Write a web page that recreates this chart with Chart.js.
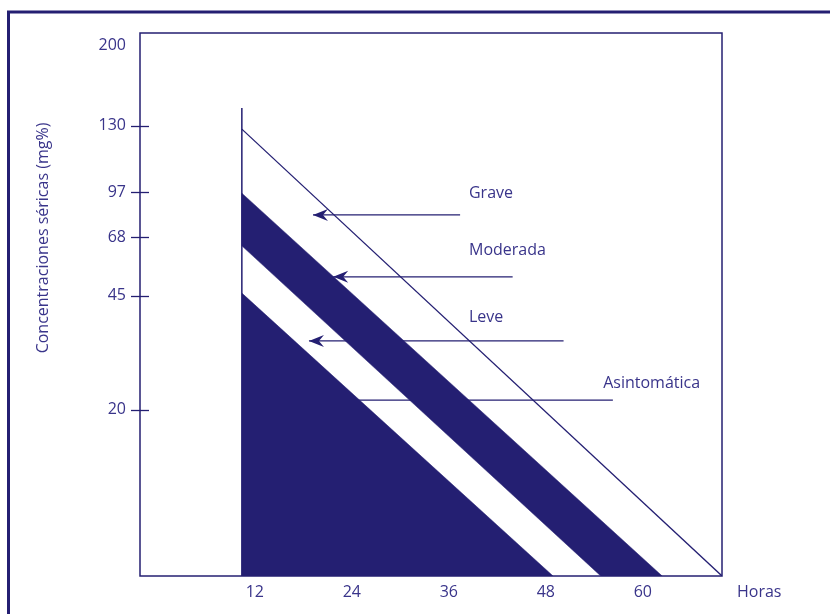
<!DOCTYPE html>
<html>
<head>
<meta charset="utf-8">
<script src="https://cdn.jsdelivr.net/npm/chart.js"></script>
<style>
  html, body { margin: 0; padding: 0; background: #fff; }
  #wrap { width: 830px; height: 614px; position: relative; }
</style>
</head>
<body>
<div id="wrap"><canvas id="nomograma"></canvas></div>
<script>
// y axis is drawn in "nomogram height" units (0 = bottom, 100 = top of the box),
// the concentration labels sit at the levels
const concLabels = [200, 130, 97, 68, 45, 20];
const concLevels = [97.8, 82.9, 70.7, 62.4, 51.6, 30.6];

const hourTicks = [12, 24, 36, 48, 60];
const xMin = -2.2, xMax = 69.8;

// start of the zones (vertical line at ~10.4 h)
const startHour = 10.4;
const verticalTop = 86.2;

const graveLine = [{x: startHour, y: 82.3}, {x: 69.8, y: 0}];
const bandTop = [{x: startHour, y: 70.5}, {x: 62.4, y: 0}];
const bandBottom = [{x: startHour, y: 60.8}, {x: 54.8, y: 0}];
const leveTriangle = [{x: startHour, y: 52.1}, {x: 48.9, y: 0}];

// arrows: label, level, line start (right), line end (tip), arrowhead?
const arrowNames = ['Grave', 'Moderada', 'Leve', 'Asintomática'];
const arrowLevels = [66.5, 55.1, 43.3, 32.4];
const arrowFrom = [37.4, 43.9, 50.2, 56.3];
const arrowTo = [19.2, 21.7, 18.7, 24.8];
const arrowHead = [true, true, true, false];
const labelX = [38.5, 38.5, 38.5, 55.1];
const labelY = [70.5, 60.0, 47.7, 35.5];

const NAVY = '#241f72';
const TEXT = '#39348a';
const FONT = '"Open Sans", "Noto Sans", sans-serif';

const band = bandTop.concat(bandBottom.slice().reverse());
band.push(bandTop[0]);

const datasets = [
  {data: [{x: startHour, y: verticalTop}, {x: startHour, y: 0}], borderColor: NAVY, borderWidth: 1.5},
  {data: graveLine, borderColor: NAVY, borderWidth: 1.3},
  {data: band, borderColor: NAVY, borderWidth: 0.5, backgroundColor: NAVY, fill: 'shape'},
  {data: leveTriangle, borderColor: NAVY, borderWidth: 0.5, backgroundColor: NAVY, fill: 'origin'},
];
for (let i = 0; i < arrowNames.length; i++) {
  datasets.push({
    data: [{x: arrowFrom[i], y: arrowLevels[i]}, {x: arrowTo[i], y: arrowLevels[i]}],
    borderColor: NAVY,
    borderWidth: 1.3
  });
}

const extras = {
  id: 'extras',
  beforeDraw(chart) {
    const ctx = chart.ctx;
    ctx.save();
    ctx.fillStyle = '#fff';
    ctx.fillRect(0, 0, chart.width, chart.height);
    // outer frame
    ctx.strokeStyle = NAVY;
    ctx.lineWidth = 3;
    ctx.beginPath();
    ctx.moveTo(8.5, chart.height + 5);
    ctx.lineTo(8.5, 12);
    ctx.lineTo(chart.width + 5, 12);
    ctx.stroke();
    ctx.restore();
  },
  afterDraw(chart) {
    const ctx = chart.ctx;
    const xs = chart.scales.x, ys = chart.scales.y;
    const a = chart.chartArea;
    ctx.save();
    // box
    ctx.strokeStyle = NAVY;
    ctx.lineWidth = 1.5;
    ctx.strokeRect(a.left, a.top, a.right - a.left, a.bottom - a.top);
    // crossing tick marks (none at 200)
    ctx.lineWidth = 1.3;
    concLevels.forEach((v, i) => {
      if (i === 0) return;
      const py = Math.round(ys.getPixelForValue(v)) + 0.5;
      ctx.beginPath();
      ctx.moveTo(a.left - 9, py);
      ctx.lineTo(a.left + 9, py);
      ctx.stroke();
    });
    // arrowheads
    ctx.fillStyle = NAVY;
    arrowNames.forEach((n, i) => {
      if (!arrowHead[i]) return;
      const tx = xs.getPixelForValue(arrowTo[i]);
      const ty = ys.getPixelForValue(arrowLevels[i]);
      ctx.beginPath();
      ctx.moveTo(tx, ty);
      ctx.lineTo(tx + 15, ty - 6);
      ctx.lineTo(tx + 10, ty);
      ctx.lineTo(tx + 15, ty + 6);
      ctx.closePath();
      ctx.fill();
    });
    // zone labels
    ctx.fillStyle = TEXT;
    ctx.font = '16px ' + FONT;
    ctx.textBaseline = 'middle';
    ctx.textAlign = 'left';
    arrowNames.forEach((n, i) => {
      ctx.fillText(n, xs.getPixelForValue(labelX[i]), ys.getPixelForValue(labelY[i]));
    });
    // axis titles
    ctx.fillText('Horas', 737, 592);
    ctx.translate(43, 238);
    ctx.rotate(-Math.PI / 2);
    ctx.textAlign = 'center';
    ctx.fillText('Concentraciones séricas (mg%)', 0, 0);
    ctx.restore();
  }
};

new Chart(document.getElementById('nomograma'), {
  type: 'scatter',
  data: {datasets: datasets},
  options: {
    responsive: true,
    maintainAspectRatio: false,
    animation: false,
    layout: {padding: {left: 0, top: 33, right: 108, bottom: 0}},
    elements: {point: {radius: 0, hoverRadius: 0}, line: {tension: 0}},
    datasets: {scatter: {showLine: true, fill: false}},
    plugins: {legend: {display: false}, tooltip: {enabled: false}},
    scales: {
      x: {
        type: 'linear',
        min: xMin,
        max: xMax,
        afterBuildTicks: s => { s.ticks = hourTicks.map(v => ({value: v})); },
        afterFit: s => { s.height = 38; },
        grid: {display: false, drawTicks: false},
        border: {display: false},
        ticks: {color: TEXT, font: {family: FONT, size: 16}, padding: 7, maxRotation: 0}
      },
      y: {
        type: 'linear',
        min: 0,
        max: 100,
        afterBuildTicks: s => { s.ticks = concLevels.map(v => ({value: v})); },
        afterFit: s => { s.width = 140; },
        grid: {display: false, drawTicks: false},
        border: {display: false},
        ticks: {
          color: TEXT,
          font: {family: FONT, size: 16},
          padding: 14,
          callback: v => {
            const i = concLevels.indexOf(v);
            return i >= 0 ? String(concLabels[i]) : '';
          }
        }
      }
    }
  },
  plugins: [extras]
});
</script>
</body>
</html>
